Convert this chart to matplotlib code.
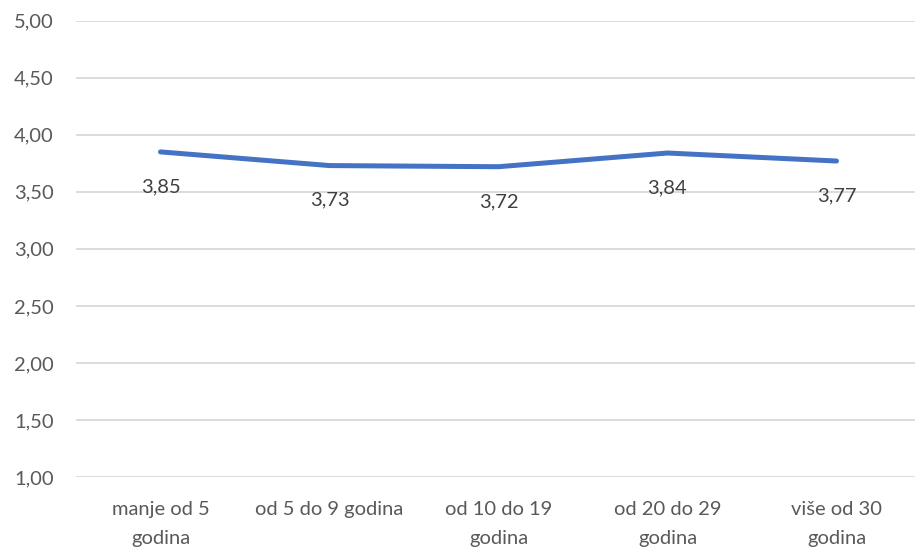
import matplotlib
matplotlib.use("Agg")
import matplotlib.pyplot as plt

categories = ["manje od 5\ngodina", "od 5 do 9 godina", "od 10 do 19\ngodina",
              "od 20 do 29\ngodina", "više od 30\ngodina"]
values = [3.85, 3.73, 3.72, 3.84, 3.77]
value_labels = ["3,85", "3,73", "3,72", "3,84", "3,77"]
yticks = [1.0, 1.5, 2.0, 2.5, 3.0, 3.5, 4.0, 4.5, 5.0]
ytick_labels = ["1,00", "1,50", "2,00", "2,50", "3,00", "3,50", "4,00", "4,50", "5,00"]

plt.rcParams['font.family'] = ['Lato', 'DejaVu Sans']
text_color = "#595959"

fig = plt.figure(figsize=(9.15, 5.5), dpi=100)
ax = fig.add_axes([76 / 915, 1 - 477 / 550, 839 / 915, (477 - 20.7) / 550])

x = list(range(len(categories)))
ax.plot(x, values, color="#4472C4", linewidth=3.6, solid_capstyle="round",
        solid_joinstyle="round", zorder=3)

for xi, v, lab in zip(x, values, value_labels):
    ax.annotate(lab, (xi, v), xytext=(0, -25), textcoords="offset points",
                ha="center", va="center", fontsize=14.5, color="#404040")

ax.set_ylim(1.0, 5.0)
ax.set_xlim(-0.5, -0.5 + 839 / 169)
ax.set_yticks(yticks)
ax.set_yticklabels(ytick_labels)
ax.set_xticks(x)
ax.set_xticklabels(categories, linespacing=1.85)

ax.grid(axis="y", color="#D9D9D9", linewidth=1.3)
ax.set_axisbelow(True)
for s in ax.spines.values():
    s.set_visible(False)
ax.tick_params(axis="both", length=0, labelsize=14.5, labelcolor=text_color)
ax.tick_params(axis="y", pad=16)
ax.tick_params(axis="x", pad=17)

fig.savefig("out.png", dpi=100)
